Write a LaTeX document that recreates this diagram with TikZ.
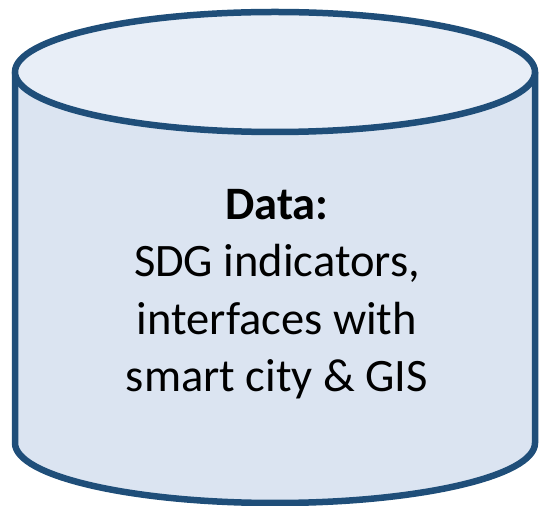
\documentclass[tikz,border=0pt]{standalone}
\usepackage{fontspec}
\setmainfont{Carlito}
\usepackage{tikz}
\definecolor{dbline}{RGB}{31,78,121}
\definecolor{dbbody}{RGB}{219,228,241}
\definecolor{dbtop}{RGB}{232,238,247}
\begin{document}
\begin{tikzpicture}[x=1pt,y=1pt]
\useasboundingbox (0,0) rectangle (544,506);
\fill[dbbody] (15,434)--(15,63) arc (180:360:260 and 60)--(535,434)--cycle;
\draw[dbline, line width=6.5pt] (15,434)--(15,63) arc (180:360:260 and 60)--(535,434);
\filldraw[fill=dbtop, draw=dbline, line width=6.5pt] (275,434) ellipse (260 and 60);
\node[align=center, font=\fontsize{46.5}{57.5}\selectfont] (dbtext) at (277,212) {\textbf{Data:}\\SDG indicators,\\interfaces with\\smart city \& GIS};
\end{tikzpicture}
\end{document}
